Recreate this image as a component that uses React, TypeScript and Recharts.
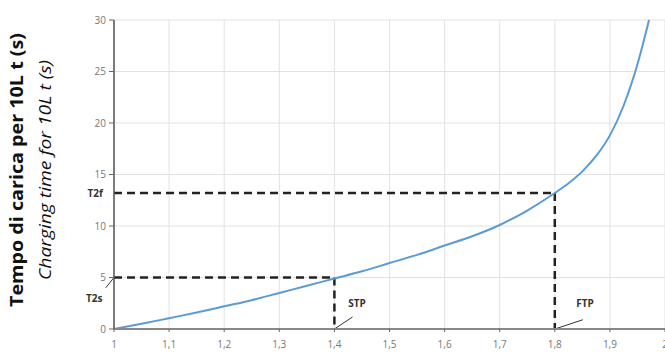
import React from "react";
import {
  LineChart,
  Line,
  XAxis,
  YAxis,
  CartesianGrid,
  ReferenceLine,
  ReferenceDot,
} from "recharts";

// pressure ratio (x) vs charging time for 10 L (s)
const ratio = [
  1.0, 1.05, 1.1, 1.15, 1.2, 1.25, 1.3, 1.35, 1.4, 1.45, 1.5, 1.55, 1.6, 1.65,
  1.7, 1.75, 1.8, 1.825, 1.85, 1.875, 1.9, 1.925, 1.95, 1.971,
];
const chargeTime = [
  0, 0.5, 1.05, 1.6, 2.2, 2.8, 3.5, 4.2, 4.9, 5.6, 6.4, 7.2, 8.1, 9.0, 10.1,
  11.5, 13.2, 14.15, 15.3, 16.8, 18.8, 21.7, 25.7, 30,
];
const xTicks = [1, 1.1, 1.2, 1.3, 1.4, 1.5, 1.6, 1.7, 1.8, 1.9, 2];
const yTicks = [0, 5, 10, 15, 20, 25, 30];

// operating points
const stp = { x: 1.4, y: 5 };
const ftp = { x: 1.8, y: 13.2 };

const data = ratio.map((r, i) => ({ r, t: chargeTime[i] }));

const dash = { stroke: "#222", strokeWidth: 2.5, strokeDasharray: "8 5" };
const lead = { stroke: "#333", strokeWidth: 1 };
const tagStyle = { fontSize: 10, fontWeight: 700, fill: "#333", fontFamily: "Open Sans" };

const fmt = (v: number) => String(v).replace(".", ",");

function YTitle() {
  return (
    <g>
      <text
        transform="translate(23,170) rotate(-90)"
        textAnchor="middle"
        textLength={274}
        lengthAdjust="spacingAndGlyphs"
        style={{ fontSize: 18, fontWeight: 700, fontFamily: "Open Sans", fill: "#111" }}
      >
        Tempo di carica per 10L t (s)
      </text>
      <text
        transform="translate(51,170) rotate(-90)"
        textAnchor="middle"
        textLength={220}
        lengthAdjust="spacingAndGlyphs"
        style={{ fontSize: 16, fontStyle: "italic", fontFamily: "Open Sans", fill: "#111" }}
      >
        Charging time for 10L t (s)
      </text>
    </g>
  );
}

export default function App() {
  return (
    <div style={{ position: "absolute", left: 0, top: 0, background: "#fff" }}>
      <LineChart
        width={665}
        height={352}
        data={data}
        margin={{ top: 20, right: 0, left: 84, bottom: 0 }}
      >
        <CartesianGrid stroke="#e2e2e2" strokeWidth={1} />
        <XAxis
          dataKey="r"
          type="number"
          domain={[1, 2]}
          ticks={xTicks}
          interval={0}
          tickFormatter={fmt}
          height={23}
          tickSize={3}
          tickMargin={9}
          axisLine={{ stroke: "#888", strokeWidth: 2 }}
          tickLine={{ stroke: "#666" }}
          tick={{ fill: "#777", fontSize: 10, fontFamily: "Open Sans" }}
        />
        <YAxis
          type="number"
          domain={[0, 30]}
          ticks={yTicks}
          width={30}
          tickSize={5}
          tickMargin={3}
          axisLine={{ stroke: "#555", strokeWidth: 1.5 }}
          tickLine={{ stroke: "#666" }}
          tick={{ fill: "#777", fontSize: 10, fontFamily: "Open Sans" }}
          label={{ content: () => <YTitle /> }}
        />
        <ReferenceLine segment={[{ x: 1, y: stp.y }, { x: stp.x, y: stp.y }]} {...dash} />
        <ReferenceLine segment={[{ x: stp.x, y: stp.y }, { x: stp.x, y: 0 }]} {...dash} />
        <ReferenceLine segment={[{ x: 1, y: ftp.y }, { x: ftp.x, y: ftp.y }]} {...dash} />
        <ReferenceLine segment={[{ x: ftp.x, y: ftp.y }, { x: ftp.x, y: 0 }]} {...dash} />
        <ReferenceLine segment={[{ x: 1.4, y: 0 }, { x: 1.433, y: 1.17 }]} {...lead} />
        <ReferenceLine segment={[{ x: 1.8, y: 0 }, { x: 1.851, y: 0.9 }]} {...lead} />
        <ReferenceLine
          segment={[{ x: 0.985, y: 4.0 }, { x: 1, y: 5 }]}
          ifOverflow="visible"
          {...lead}
        />
        <Line
          type="monotone"
          dataKey="t"
          stroke="#5b9bd5"
          strokeWidth={2}
          dot={false}
          isAnimationActive={false}
        />
        <ReferenceDot x={1.441} y={2.5} r={0} label={{ value: "STP", position: "center", ...tagStyle }} />
        <ReferenceDot x={1.855} y={2.5} r={0} label={{ value: "FTP", position: "center", ...tagStyle }} />
        <ReferenceDot
          x={0.964}
          y={3.0}
          r={0}
          ifOverflow="visible"
          label={{ value: "T2s", position: "center", ...tagStyle }}
        />
        <ReferenceDot
          x={0.966}
          y={13.2}
          r={0}
          ifOverflow="visible"
          label={{ value: "T2f", position: "center", ...tagStyle }}
        />
      </LineChart>
    </div>
  );
}
